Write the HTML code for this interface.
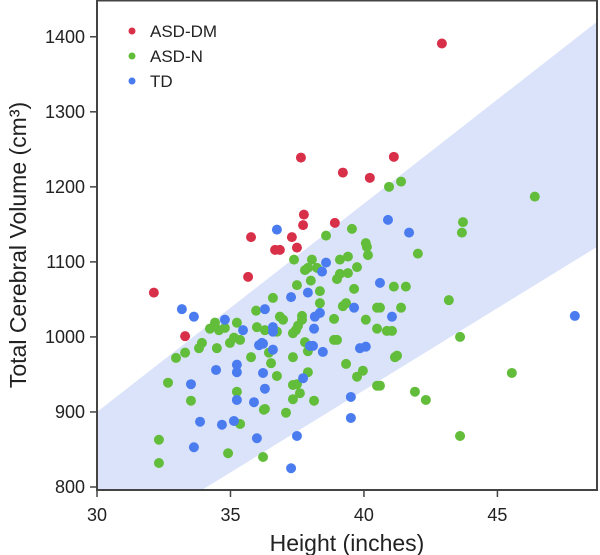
<!DOCTYPE html>
<html><head><meta charset="utf-8"><style>
body{margin:0;background:#fff;}
svg{display:block;font-family:"Liberation Sans",sans-serif;}
</style></head><body>
<svg id="chart" width="600" height="555" xmlns="http://www.w3.org/2000/svg"></svg>
<script>
const xTicks=[30,35,40,45];
const yTicks=[800,900,1000,1100,1200,1300,1400];
const bandLower=[710,1120];
const bandUpper=[900,1420];
const seriesNames=["ASD-DM","ASD-N","TD"];
const seriesColors=["#d9304a","#62bd3a","#4a7cf0"];
const dmH=[32.13,33.30,35.66,35.77,36.67,36.85,37.30,37.49,37.72,37.64,37.75,38.91,39.21,40.22,41.12,42.92];
const dmV=[1059,1001,1080,1133,1116,1116,1133,1119,1149,1239,1163,1152,1219,1212,1240,1391];
const tdH=[33.18,33.63,34.79,35.47,36.07,36.18,35.24,35.24,34.46,36.22,33.52,36.29,35.24,35.88,33.86,34.68,35.13,35.99,33.63,36.74,40.90,41.69,38.58,38.43,40.60,37.27,37.90,36.29,39.63,38.35,38.16,41.05,36.59,36.59,38.13,36.22,36.59,37.98,38.09,38.46,39.85,40.07,37.72,39.51,39.51,37.49,37.27,47.90];
const tdV=[1037,1027,1023,1009,989,992,963,953,956,952,937,931,916,913,887,883,888,865,853,1143,1156,1139,1099,1087,1072,1053,1059,1037,1039,1032,1027,1027,1013,1007,1011,991,983,988,988,980,985,987,945,920,892,868,825,1028];
const nH=[40.94,41.39,46.40,43.71,43.67,42.02,41.12,41.57,43.18,41.39,40.60,40.86,41.05,43.60,41.16,41.24,45.54,40.60,41.91,42.32,43.60,38.58,39.55,40.07,40.11,40.15,37.38,38.05,37.79,37.90,38.24,39.10,39.40,39.74,38.99,39.10,39.40,37.49,38.01,38.35,39.63,36.59,38.35,39.21,39.33,40.49,36.85,36.97,37.68,37.68,38.88,40.07,37.53,37.45,37.34,36.74,36.29,40.49,37.79,37.90,38.88,38.99,36.44,36.52,37.34,39.33,39.96,39.74,37.90,36.74,37.49,37.34,37.60,37.34,38.13,40.49,36.29,37.08,36.22,35.96,35.24,35.99,34.23,34.42,34.57,34.79,33.93,33.82,34.49,34.98,35.13,35.36,33.30,32.96,35.77,32.66,33.52,35.24,36.25,35.36,32.32,32.32,34.91];
const nV=[1200,1207,1187,1153,1139,1111,1067,1067,1049,1039,1039,1008,1008,1000,973,975,952,935,927,916,868,1135,1144,1125,1120,1109,1103,1103,1089,1092,1092,1103,1107,1093,1077,1084,1085,1069,1075,1061,1064,1052,1045,1041,1045,1039,1027,1023,1028,1023,1024,1023,1015,1009,1005,1007,1009,1011,993,981,996,996,979,965,973,964,955,947,953,948,937,936,925,917,915,935,904,899,840,1035,1019,1013,1011,1019,1009,1012,992,985,985,992,999,996,979,972,973,939,915,927,903,884,863,832,845];

const NS="http://www.w3.org/2000/svg";
const svg=document.getElementById('chart');
const L=97,R=597,T=0,B=490;
const xMin=30,xMax=48.73,yMin=796,yMax=1449;
const sx=v=>L+(v-xMin)/(xMax-xMin)*(R-L);
const sy=v=>B-(v-yMin)/(yMax-yMin)*(B-T);
function mk(tag,attrs,parent){const e=document.createElementNS(NS,tag);for(const k in attrs)e.setAttribute(k,attrs[k]);(parent||svg).appendChild(e);return e;}

const defs=mk('defs',{});
const cp=mk('clipPath',{id:'plotclip'},defs);
mk('rect',{x:L,y:T,width:R-L,height:B-T},cp);

const band=mk('polygon',{points:`${sx(xMin)},${sy(bandLower[0])} ${sx(xMax)},${sy(bandLower[1])} ${sx(xMax)},${sy(bandUpper[1])} ${sx(xMin)},${sy(bandUpper[0])}`,fill:'#dbe3fa','clip-path':'url(#plotclip)'});



const groups=[[dmH,dmV],[nH,nV],[tdH,tdV]];
const pts=mk('g',{'clip-path':'url(#plotclip)'});


[1,2,0].forEach(gi=>{
  const [hs,vs]=groups[gi];
  hs.forEach((h,i)=>{
    const c=mk('circle',{cx:sx(h),cy:sy(vs[i]),r:5,fill:seriesColors[gi]},pts);
    
    
  });
});

const frame=mk('rect',{x:L,y:T+0.5,width:R-L,height:B-T-0.5,fill:'none',stroke:'#444','stroke-width':2});



xTicks.forEach(t=>{
  const x=sx(t);
  const tk=mk('line',{x1:x,x2:x,y1:B,y2:B+7,stroke:'#444','stroke-width':1.5});
  
  
  const lb=mk('text',{x:x,y:B+31,'text-anchor':'middle','font-size':18,fill:'#222'});
  lb.textContent=t;
  
  
});
yTicks.forEach(t=>{
  const y=sy(t);
  const tk=mk('line',{x1:L-7,x2:L,y1:y,y2:y,stroke:'#444','stroke-width':1.5});
  
  
  const lb=mk('text',{x:L-12,y:y+6,'text-anchor':'end','font-size':18,fill:'#222'});
  lb.textContent=t;
  
  
});

const xt=mk('text',{x:(L+R)/2,y:551,'text-anchor':'middle','font-size':23,fill:'#222'});
xt.textContent='Height (inches)';


const yt=mk('text',{x:0,y:0,'text-anchor':'middle','font-size':23,fill:'#222',transform:`translate(26,${(T+B)/2}) rotate(-90)`});
yt.textContent='Total Cerebral Volume (cm³)';



const lg=mk('g',{});


seriesNames.forEach((n,i)=>{
  const y=31+i*25;
  const d=mk('circle',{cx:132,cy:y,r:3.5,fill:seriesColors[i]},lg);
  
  
  const tx=mk('text',{x:150,y:y+6,'font-size':17,fill:'#222'},lg);
  tx.textContent=n;
  
  
});
</script>
</body></html>
